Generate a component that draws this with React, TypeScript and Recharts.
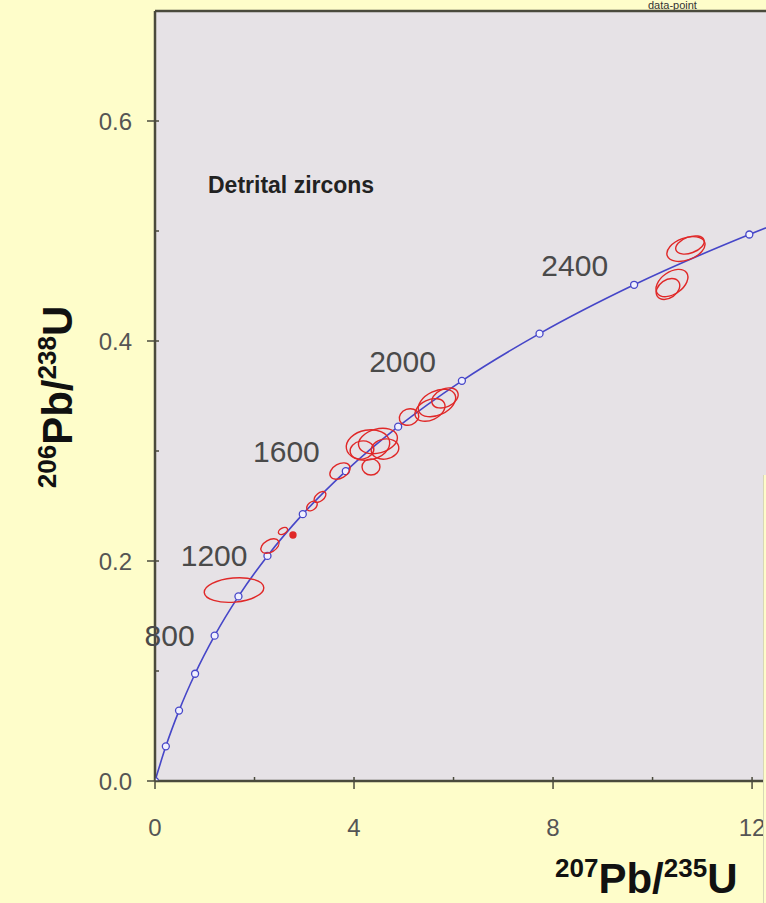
import React from "react";
import { ComposedChart, Line, Scatter, XAxis, YAxis, CartesianGrid, ReferenceLine, ReferenceDot, Customized } from "recharts";

// concordia curve, one marker every 200 Ma
const concordiaAges = [0, 200, 400, 600, 800, 1000, 1200, 1400, 1600, 1800, 2000, 2200, 2400, 2600, 2800];
const concordiaX = [0, 0.2177, 0.4828, 0.8056, 1.1987, 1.6774, 2.2604, 2.9703, 3.8346, 4.887, 6.1682, 7.7285, 9.6295, 11.945, 14.76];
const concordiaY = [0, 0.0315, 0.064, 0.0975, 0.1321, 0.1678, 0.2046, 0.2426, 0.2817, 0.3221, 0.3638, 0.4067, 0.4511, 0.4968, 0.544];
const labeledAges = [800, 1200, 1600, 2000, 2400];

// detrital zircon analyses: centre, half-axes (data units), tilt of the ellipse
const zirconX = [1.588, 2.311, 2.572, 2.773, 3.155, 3.316, 3.718, 4.281, 4.481, 4.622, 4.341, 4.16, 5.105, 5.527, 5.667, 5.828, 10.671, 10.752, 10.39, 10.31];
const zirconY = [0.1736, 0.2136, 0.2273, 0.2236, 0.25, 0.2582, 0.2818, 0.3055, 0.3091, 0.3018, 0.2855, 0.3009, 0.3309, 0.3373, 0.3436, 0.3482, 0.4836, 0.4873, 0.4527, 0.4473];
const zirconErrX = [0.6, 0.2, 0.1, 0.06, 0.12, 0.14, 0.22, 0.44, 0.4, 0.28, 0.18, 0.24, 0.2, 0.32, 0.4, 0.28, 0.4, 0.3, 0.36, 0.26];
const zirconErrY = [0.011, 0.0055, 0.0027, 0.0027, 0.0036, 0.0036, 0.0064, 0.0136, 0.0109, 0.0091, 0.0073, 0.0082, 0.0073, 0.0091, 0.0109, 0.0082, 0.01, 0.0073, 0.01, 0.0082];
const zirconTilt = [-5, -30, -30, 0, -40, -40, -30, -10, -15, -10, 0, -10, -20, -25, -25, -25, -20, -20, -35, -35];
const zirconSolid = [false, false, false, true, false, false, false, false, false, false, false, false, false, false, false, false, false, false, false, false];

const xTicks = [0, 2, 4, 6, 8, 10, 12];
const yTicks = [0, 0.1, 0.2, 0.3, 0.4, 0.5, 0.6];
const xMajor = [0, 4, 8, 12];
const yMajor = [0, 0.2, 0.4, 0.6];

const W = 766;
const H = 903;
const LEFT = 155;
const TOP = 11;
const BOTTOM = 781;
const X_MAX = 12.28;
const Y_MAX = 0.7;
const PX_X = (W - LEFT) / X_MAX;
const PX_Y = (BOTTOM - TOP) / Y_MAX;

const BLUE = "#4646c8";
const RED = "#e02828";
const AXIS = "#4a4a3c";
const TICK_TEXT = "#555555";
const FONT = "'Liberation Sans', Arial, sans-serif";

const concordia = concordiaAges.map((age, i) => ({ age, x: concordiaX[i], y: concordiaY[i] }));
const ageLabels = concordia.filter((d) => labeledAges.includes(d.age));
const zircons = zirconX.map((x, i) => ({
  x,
  y: zirconY[i],
  ex: zirconErrX[i],
  ey: zirconErrY[i],
  tilt: zirconTilt[i],
  solid: zirconSolid[i],
}));

const ConcordiaDot = (props: any) => {
  const { cx, cy, index } = props;
  if (cx == null || cy == null) return null;
  return <circle key={`c-${index}`} cx={cx} cy={cy} r={3.5} fill="#f0f0ff" stroke={BLUE} strokeWidth={1.3} />;
};

const EllipseShape = (props: any) => {
  const { cx, cy, payload } = props;
  const rx = payload.ex * PX_X;
  const ry = payload.ey * PX_Y;
  return (
    <ellipse
      cx={cx}
      cy={cy}
      rx={rx}
      ry={ry}
      transform={`rotate(${payload.tilt} ${cx} ${cy})`}
      fill={payload.solid ? RED : "none"}
      stroke={RED}
      strokeWidth={1.4}
    />
  );
};

const ageLabelShape = (age: number) => (props: any) => {
  const { cx, cy } = props;
  const dx = age < 1400 ? -20 : -26;
  const dy = age < 1400 ? 10 : -9;
  return (
    <text x={cx + dx} y={cy + dy} textAnchor="end" fontSize={30} fontFamily={FONT} fill="#4a4a4a">
      {age}
    </text>
  );
};

const XTick = (props: any) => {
  const { x, payload } = props;
  const major = xMajor.includes(payload.value);
  return (
    <g>
      <line x1={x} x2={x} y1={BOTTOM - 4} y2={major ? BOTTOM + 8 : BOTTOM} stroke={AXIS} strokeWidth={1.5} />
      {major && (
        <text x={x} y={BOTTOM + 55} textAnchor="middle" fontSize={24} fontFamily={FONT} fill={TICK_TEXT}>
          {payload.value}
        </text>
      )}
    </g>
  );
};

const YTick = (props: any) => {
  const { y, payload } = props;
  const major = yMajor.some((v) => Math.abs(v - payload.value) < 1e-6);
  return (
    <g>
      <line x1={major ? LEFT - 8 : LEFT} x2={LEFT + 4} y1={y} y2={y} stroke={AXIS} strokeWidth={1.5} />
      {major && (
        <text x={LEFT - 23} y={y + 9} textAnchor="end" fontSize={24} fontFamily={FONT} fill={TICK_TEXT}>
          {payload.value.toFixed(1)}
        </text>
      )}
    </g>
  );
};

const Overlay = () => (
  <g fontFamily={FONT}>
    <text x={648} y={9} fontSize={11} fill="#333">data-point</text>
    <text x={208} y={193} fontSize={23} fontWeight="bold" fill="#222">Detrital zircons</text>
    <text x={555} y={893} fontWeight="bold" fill="#111">
      <tspan fontSize={26} dy={-16}>207</tspan>
      <tspan fontSize={42} dy={16}>Pb/</tspan>
      <tspan fontSize={26} dy={-16}>235</tspan>
      <tspan fontSize={42} dy={16}>U</tspan>
    </text>
    <text x={0} y={0} fontWeight="bold" fill="#111" textAnchor="middle" transform="translate(72 397) rotate(-90)">
      <tspan fontSize={26} dy={-16}>206</tspan>
      <tspan fontSize={42} dy={16}>Pb/</tspan>
      <tspan fontSize={26} dy={-16}>238</tspan>
      <tspan fontSize={42} dy={16}>U</tspan>
    </text>
  </g>
);

export default function App() {
  return (
    <div style={{ position: "absolute", left: 0, top: 0, width: W, height: H, background: "#fefdca", overflow: "hidden" }}>
      <ComposedChart width={W} height={H} margin={{ top: TOP, right: 0, bottom: H - BOTTOM - 60, left: LEFT - 60 }}>
        <CartesianGrid horizontal={false} vertical={false} fill="#e6e2e6" />
        <XAxis
          type="number"
          dataKey="x"
          domain={[0, X_MAX]}
          allowDataOverflow
          ticks={xTicks}
          tick={<XTick />}
          tickLine={false}
          height={60}
          axisLine={{ stroke: AXIS, strokeWidth: 2.5 }}
        />
        <YAxis
          type="number"
          dataKey="y"
          domain={[0, Y_MAX]}
          allowDataOverflow
          ticks={yTicks}
          tick={<YTick />}
          tickLine={false}
          width={60}
          axisLine={{ stroke: AXIS, strokeWidth: 2.5 }}
        />
        <ReferenceLine y={Y_MAX} stroke={AXIS} strokeWidth={2.5} />
        <Line
          data={concordia}
          dataKey="y"
          type="monotone"
          stroke={BLUE}
          strokeWidth={1.6}
          dot={<ConcordiaDot />}
          activeDot={false}
          isAnimationActive={false}
        />
        <Scatter data={zircons} dataKey="y" shape={<EllipseShape />} isAnimationActive={false} />
        {ageLabels.map((d) => (
          <ReferenceDot key={d.age} x={d.x} y={d.y} r={0} ifOverflow="visible" shape={ageLabelShape(d.age)} />
        ))}
        <Customized component={<Overlay />} />
      </ComposedChart>
      <div style={{ position: "absolute", left: 763, top: 475, width: 3, height: H - 475, background: "#fefdca", borderLeft: "1px solid #d8d6b8" }} />
    </div>
  );
}
